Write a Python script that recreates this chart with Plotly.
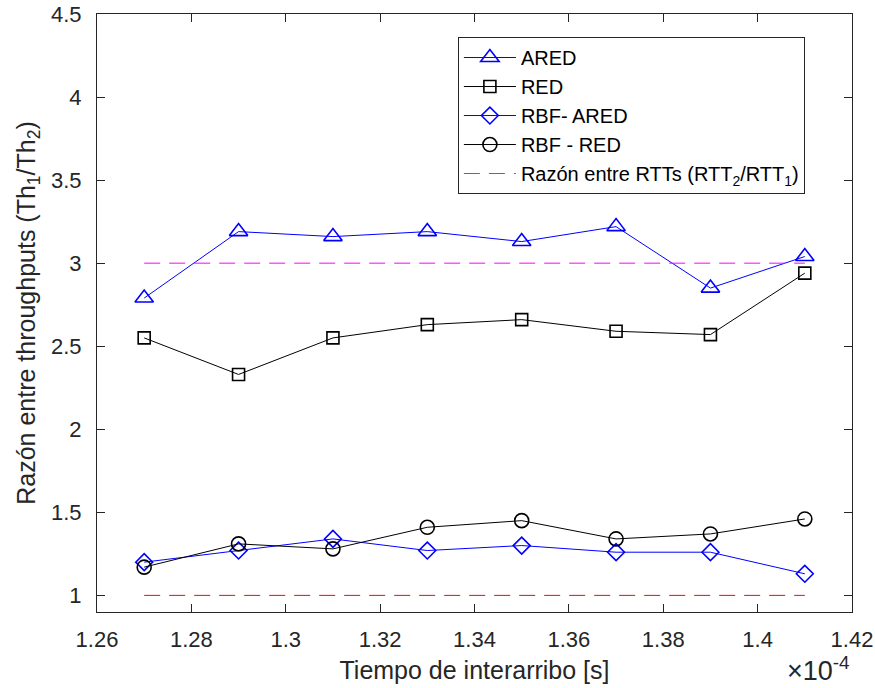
import plotly.graph_objects as go

x = [1.27, 1.29, 1.31, 1.33, 1.35, 1.37, 1.39, 1.41]
ared = [2.79, 3.19, 3.16, 3.19, 3.13, 3.22, 2.85, 3.04]
red = [2.55, 2.33, 2.55, 2.63, 2.66, 2.59, 2.57, 2.94]
rbf_ared = [1.20, 1.27, 1.34, 1.27, 1.30, 1.26, 1.26, 1.13]
rbf_red = [1.17, 1.31, 1.28, 1.41, 1.45, 1.34, 1.37, 1.46]
rtt_ratio_line = [3, 3]
ref_line = [1, 1]
line_x = [1.27, 1.41]
xticks = [1.26, 1.28, 1.30, 1.32, 1.34, 1.36, 1.38, 1.40, 1.42]
xticklabels = ["1.26", "1.28", "1.3", "1.32", "1.34", "1.36", "1.38", "1.4", "1.42"]
yticks = [1, 1.5, 2, 2.5, 3, 3.5, 4, 4.5]
yticklabels = ["1", "1.5", "2", "2.5", "3", "3.5", "4", "4.5"]

BLUE = "rgb(0,0,255)"
BLACK = "rgb(0,0,0)"
AX = "#262626"
FONT = "Liberation Sans, Arial, sans-serif"

fig = go.Figure()
fig.add_trace(go.Scatter(x=x, y=ared, mode="lines+markers", name="ARED", legendgroup="a",
                         line=dict(color=BLUE, width=1),
                         marker=dict(symbol="triangle-up-open", size=16, color=BLUE, line=dict(width=1.6))))
fig.add_trace(go.Scatter(x=x, y=red, mode="lines+markers", name="RED", legendgroup="b",
                         line=dict(color=BLACK, width=1),
                         marker=dict(symbol="square-open", size=12, color=BLACK, line=dict(width=1.6))))
fig.add_trace(go.Scatter(x=x, y=rbf_ared, mode="lines+markers", name="RBF- ARED", legendgroup="c",
                         line=dict(color=BLUE, width=1),
                         marker=dict(symbol="diamond-open", size=13, color=BLUE, line=dict(width=1.6))))
fig.add_trace(go.Scatter(x=x, y=rbf_red, mode="lines+markers", name="RBF - RED", legendgroup="d",
                         line=dict(color=BLACK, width=1),
                         marker=dict(symbol="circle-open", size=14, color=BLACK, line=dict(width=1.6))))
fig.add_trace(go.Scatter(x=line_x, y=rtt_ratio_line, mode="lines", legendgroup="e",
                         name="Razón entre RTTs (RTT<sub>2</sub>/RTT<sub>1</sub>)",
                         line=dict(color="rgb(255,0,255)", width=1, dash="16px,9px")))
fig.add_trace(go.Scatter(x=line_x, y=ref_line, mode="lines", showlegend=False,
                         line=dict(color="rgb(255,0,0)", width=1, dash="16px,9px")))

axis_common = dict(showgrid=False, zeroline=False, showline=True, linecolor=AX,
                   linewidth=1, mirror="ticks", ticks="inside", ticklen=8, tickcolor=AX,
                   automargin=False, ticklabeloverflow="allow",
                   tickfont=dict(family=FONT, size=22, color=AX))

fig.update_layout(
    width=875, height=688,
    margin=dict(l=97, r=23, t=14, b=76),
    paper_bgcolor="white", plot_bgcolor="white",
    font=dict(family=FONT, color=AX),
    xaxis=dict(range=[1.26, 1.42], tickvals=xticks, ticktext=xticklabels,
               ticklabelstandoff=8,
               title=dict(text="Tiempo de interarribo [s]", font=dict(size=25, family=FONT, color=AX), standoff=10),
               **axis_common),
    yaxis=dict(range=[0.9, 4.5], tickvals=yticks, ticktext=yticklabels,
               ticklabelstandoff=10,
               title=dict(text="Razón entre throughputs (Th<sub>1</sub>/Th<sub>2</sub>)", font=dict(size=25, family=FONT, color=AX), standoff=8),
               **axis_common),
    legend=dict(x=0.478, y=0.9615, xanchor="left", yanchor="top",
                bgcolor="white", bordercolor=AX, borderwidth=1,
                font=dict(family=FONT, size=20, color="#000"),
                tracegroupgap=0, itemwidth=52),
    annotations=[dict(text="×10<sup>-4</sup>", xref="paper", yref="paper", x=1.0, y=-0.127,
                      xanchor="right", yanchor="bottom", showarrow=False,
                      font=dict(family=FONT, size=27, color=AX))],
)

fig.write_html("out.html")
